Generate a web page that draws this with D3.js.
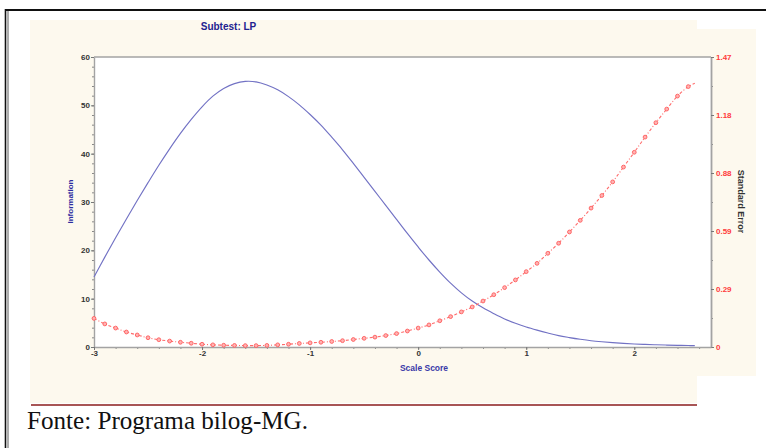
<!DOCTYPE html>
<html>
<head>
<meta charset="utf-8">
<script src="https://cdn.jsdelivr.net/npm/d3@7"></script>
<style>
  html, body { margin: 0; padding: 0; background: #ffffff; }
  svg { display: block; }
</style>
</head>
<body>
<svg id="chart" width="766" height="448"></svg>
<script>
// Ability grid (scale score) and the two test curves evaluated on it
const theta = [
  -3.0, -2.9, -2.8, -2.7, -2.6, -2.5, -2.4, -2.3, -2.2, -2.1,
  -2.0, -1.9, -1.8, -1.7, -1.6, -1.5, -1.4, -1.3, -1.2, -1.1,
  -1.0, -0.9, -0.8, -0.7, -0.6, -0.5, -0.4, -0.3, -0.2, -0.1,
   0.0,  0.1,  0.2,  0.3,  0.4,  0.5,  0.6,  0.7,  0.8,  0.9,
   1.0,  1.1,  1.2,  1.3,  1.4,  1.5,  1.6,  1.7,  1.8,  1.9,
   2.0,  2.1,  2.2,  2.3,  2.4,  2.5,  2.56
];

// Total test information
const information = [
  14.5, 18.6, 22.6, 26.5, 30.3, 34.0, 37.6, 41.0, 44.2, 47.1,
  49.7, 51.9, 53.5, 54.5, 54.95, 54.85, 54.2, 53.2, 51.8, 50.1,
  48.1, 45.9, 43.4, 40.8, 38.0, 35.1, 32.2, 29.3, 26.4, 23.5,
  20.7, 18.0, 15.5, 13.2, 11.2,  9.5,  8.1,  6.9,  5.8,  4.9,
  4.15, 3.5,  2.9,  2.35, 1.95, 1.6,  1.3,  1.08, 0.9,  0.75,
  0.63, 0.54, 0.46, 0.40, 0.35, 0.31, 0.28
];

// Standard error of measurement
const standardError = [
  0.145, 0.117, 0.096, 0.076, 0.061, 0.047, 0.037, 0.030, 0.024, 0.019,
  0.014, 0.011, 0.009, 0.008, 0.007, 0.007, 0.008, 0.011, 0.014, 0.018,
  0.021, 0.024, 0.028, 0.032, 0.038, 0.044, 0.050, 0.058, 0.068, 0.081,
  0.096, 0.112, 0.133, 0.154, 0.178, 0.203, 0.233, 0.265, 0.301, 0.340,
  0.382, 0.424, 0.475, 0.526, 0.583, 0.642, 0.704, 0.768, 0.837, 0.912,
  0.987, 1.064, 1.137, 1.206, 1.272, 1.320, 1.337
];

// Axis ticks and labels
const xTicks = [-3, -2, -1, 0, 1, 2];
const xTickLabels = ["-3", "-2", "-1", "0", "1", "2"];
const xMinorTicks = d3.range(-30, 28, 2).map(v => v / 10);
const infoTicks = [0, 10, 20, 30, 40, 50, 60];
const infoMinorTicks = d3.range(0, 61, 2);
const seTicks = [0, 0.294, 0.588, 0.882, 1.176, 1.47];
const seTickLabels = ["0", "0.29", "0.59", "0.88", "1.18", "1.47"];
const seMinorTicks = [0.147, 0.441, 0.735, 1.029, 1.323];

const chartTitle = "Subtest: LP";
const xTitle = "Scale Score";
const yLeftTitle = "Information";
const yRightTitle = "Standard Error";
const sourceNote = "Fonte: Programa bilog-MG.";

const svg = d3.select("#chart");
const SANS = "'Liberation Sans', Arial, sans-serif";
const SERIF = "'Liberation Serif', 'Times New Roman', serif";

// Page frame
svg.append("line").attr("x1", 6).attr("x2", 766).attr("y1", 10).attr("y2", 10)
  .attr("stroke", "#111").attr("stroke-width", 2);
svg.append("line").attr("x1", 5.5).attr("x2", 5.5).attr("y1", 9).attr("y2", 448)
  .attr("stroke", "#111").attr("stroke-width", 1.6);
svg.append("line").attr("x1", 8).attr("x2", 8).attr("y1", 11).attr("y2", 448)
  .attr("stroke", "#333").attr("stroke-width", 0.8);

// Chart backdrop
svg.append("rect").attr("x", 30).attr("y", 20).attr("width", 667).attr("height", 383)
  .attr("fill", "#fdf9ee");
svg.append("rect").attr("x", 697).attr("y", 29).attr("width", 59).attr("height", 347)
  .attr("fill", "#fdf9ee");

// Rule above the source note
svg.append("line").attr("x1", 31).attr("x2", 697).attr("y1", 405).attr("y2", 405)
  .attr("stroke", "#8b1c1c").attr("stroke-width", 1.4);

svg.append("text").attr("x", 27).attr("y", 429)
  .attr("font-family", SERIF).attr("font-size", 26).attr("fill", "#111")
  .attr("textLength", 281).attr("lengthAdjust", "spacingAndGlyphs")
  .text(sourceNote);

// Plot region
const plotLeft = 94, plotRight = 711, plotTop = 57, plotBottom = 347;
const x = d3.scaleLinear().domain([-3, 2.71]).range([plotLeft, plotRight]);
const yInfo = d3.scaleLinear().domain([0, 60]).range([plotBottom, plotTop]);
const ySE = d3.scaleLinear().domain([0, 1.47]).range([plotBottom, plotTop]);

svg.append("rect").attr("x", plotLeft).attr("y", plotTop)
  .attr("width", plotRight - plotLeft).attr("height", plotBottom - plotTop).attr("fill", "#ffffff");

const AXIS = "#a3a3a3";

// Top edge of the plot
svg.append("line").attr("x1", plotLeft).attr("x2", plotRight).attr("y1", plotTop).attr("y2", plotTop)
  .attr("stroke", AXIS).attr("stroke-width", 1.3);

function styleAxis(g, color) {
  g.select(".domain").attr("stroke", AXIS).attr("stroke-width", 1.4);
  g.selectAll(".tick line").attr("stroke", "#777").attr("stroke-width", 1);
  g.selectAll(".tick text")
    .attr("font-family", SANS).attr("font-size", 8).attr("font-weight", "bold")
    .attr("fill", color);
}

// Left axis: information
const gLeftMinor = svg.append("g").attr("transform", `translate(${plotLeft},0)`)
  .call(d3.axisLeft(yInfo).tickValues(infoMinorTicks).tickSize(2).tickSizeOuter(0).tickFormat(""));
gLeftMinor.select(".domain").remove();
gLeftMinor.selectAll(".tick line").attr("stroke", "#888");
const gLeft = svg.append("g").attr("transform", `translate(${plotLeft},0)`)
  .call(d3.axisLeft(yInfo).tickValues(infoTicks).tickSize(3).tickSizeOuter(0).tickPadding(1));
styleAxis(gLeft, "#333");

// Right axis: standard error
const gRightMinor = svg.append("g").attr("transform", `translate(${plotRight},0)`)
  .call(d3.axisRight(ySE).tickValues(seMinorTicks).tickSize(2).tickSizeOuter(0).tickFormat(""));
gRightMinor.select(".domain").remove();
gRightMinor.selectAll(".tick line").attr("stroke", "#888");
const gRight = svg.append("g").attr("transform", `translate(${plotRight},0)`)
  .call(d3.axisRight(ySE).tickValues(seTicks).tickSize(3).tickSizeOuter(0).tickPadding(2)
    .tickFormat((d, i) => seTickLabels[i]));
styleAxis(gRight, "#ff3b3b");
gRight.select(".domain").attr("stroke-width", 1.8);

// Bottom axis: scale score
const gBottomMinor = svg.append("g").attr("transform", `translate(0,${plotBottom})`)
  .call(d3.axisBottom(x).tickValues(xMinorTicks).tickSize(2).tickSizeOuter(0).tickFormat(""));
gBottomMinor.select(".domain").remove();
gBottomMinor.selectAll(".tick line").attr("stroke", "#888");
const gBottom = svg.append("g").attr("transform", `translate(0,${plotBottom})`)
  .call(d3.axisBottom(x).tickValues(xTicks).tickSize(3).tickSizeOuter(0).tickPadding(0)
    .tickFormat((d, i) => xTickLabels[i]));
styleAxis(gBottom, "#333");

// Titles
svg.append("text").attr("x", 228.5).attr("y", 29.5).attr("text-anchor", "middle")
  .attr("font-family", SANS).attr("font-size", 10).attr("font-weight", "bold")
  .attr("fill", "#22228f").text(chartTitle);

svg.append("text").attr("x", 424).attr("y", 370.5).attr("text-anchor", "middle")
  .attr("font-family", SANS).attr("font-size", 8.5).attr("font-weight", "bold")
  .attr("fill", "#3a3aa8").text(xTitle);

svg.append("text")
  .attr("transform", "translate(73,201.5) rotate(-90)").attr("text-anchor", "middle")
  .attr("font-family", SANS).attr("font-size", 8).attr("font-weight", "bold")
  .attr("fill", "#2c2ca0").text(yLeftTitle);

svg.append("text")
  .attr("transform", "translate(738,201.5) rotate(90)").attr("text-anchor", "middle")
  .attr("font-family", SANS).attr("font-size", 9).attr("font-weight", "bold")
  .attr("fill", "#333").text(yRightTitle);

// Curves
const rows = theta.map((t, i) => ({ t, info: information[i], se: standardError[i] }));

const infoLine = d3.line().x(d => x(d.t)).y(d => yInfo(d.info)).curve(d3.curveCatmullRom.alpha(0.5));
svg.append("path").datum(rows).attr("d", infoLine)
  .attr("fill", "none").attr("stroke", "#7272c4").attr("stroke-width", 1.15);

const seLine = d3.line().x(d => x(d.t)).y(d => ySE(d.se)).curve(d3.curveCatmullRom.alpha(0.5));
svg.append("path").datum(rows).attr("d", seLine)
  .attr("fill", "none").attr("stroke", "#ff6b6b").attr("stroke-width", 1.1)
  .attr("stroke-dasharray", "3,2,1,2");

// Markers on the standard-error curve at each grid step
svg.append("g").selectAll("circle").data(rows.slice(0, rows.length - 1)).join("circle")
  .attr("cx", d => x(d.t)).attr("cy", d => ySE(d.se)).attr("r", 1.9)
  .attr("fill", "#ffb3b3").attr("stroke", "#ff5c5c").attr("stroke-width", 0.9);
</script>
</body>
</html>
